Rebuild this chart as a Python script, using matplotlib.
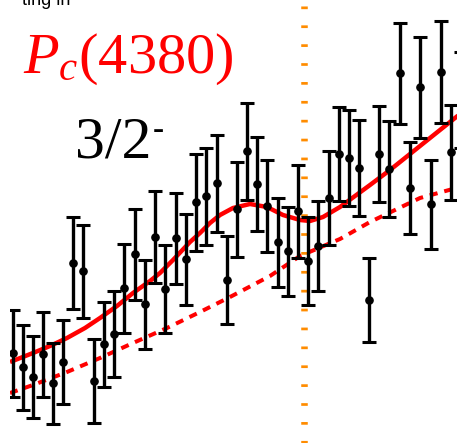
import matplotlib
matplotlib.use("Agg")
import matplotlib.pyplot as plt

plt.rcParams['lines.scale_dashes'] = False
plt.rcParams['mathtext.fontset'] = 'custom'
plt.rcParams['mathtext.it'] = 'Liberation Serif:italic'
plt.rcParams['mathtext.rm'] = 'Liberation Serif'

# ---- data (arbitrary units) ----
mass = [13, 23, 33, 43, 53, 63, 73, 83, 94, 104, 114, 124, 135, 145, 155, 165,
        176, 186, 196, 206, 217, 227, 237, 247, 257, 267, 278, 288, 298, 308,
        318, 329, 339, 349, 359, 369, 379, 389, 400, 410, 420, 431, 441, 451, 461]
counts = [90, 76, 66, 89, 60, 81, 180, 172, 62, 99, 109, 155, 189, 139, 206, 154,
          205, 184, 241, 247, 260, 163, 234, 292, 259, 237, 201, 192, 232, 182,
          197, 245, 289, 285, 275, 143, 289, 274, 370, 255, 356, 239, 371, 291, 343]
errors = [43.5, 42.5, 41, 42.5, 40.5, 42, 46, 46.5, 42, 42.5, 43, 44.5, 45.5, 44.5,
          46, 44, 45.5, 45.5, 48.5, 48.5, 48.5, 44, 47.5, 48.5, 47, 46, 44.5, 44.5,
          46.5, 44, 45, 47, 47, 48, 48, 42, 48, 48, 50.5, 46, 50.5, 44.5, 51, 47.5, 48]

fit_x = [10, 33, 50, 67, 85, 100, 117, 133, 150, 160, 173, 190, 200, 210, 220,
         233, 250, 267, 283, 300, 310, 323, 340, 355, 370, 390, 410, 430, 450, 460]
fit_total = [81, 90, 97, 105, 115, 125, 137, 150, 162, 170, 183, 201, 210, 220, 228,
             235, 239, 236, 228, 223, 222, 226, 236, 247, 258, 273, 289, 305, 321, 329]

bkg_x = [10, 33, 67, 100, 133, 167, 200, 230, 270, 300, 340, 370, 420, 460]
bkg = [50, 58, 71, 85, 100, 115, 131, 146, 167, 187, 204, 221, 245, 256]

threshold = 304

W, H = 457, 443
fig = plt.figure(figsize=(W / 100, H / 100), dpi=100)
ax = fig.add_axes([10 / W, 0, (W - 10) / W, 1])
ax.set_xlim(10, W)
ax.set_ylim(0, H)
ax.axis('off')

# orange dotted threshold line
ax.plot([threshold, threshold], [H, 0], color='#FF8C00', lw=4.7,
        linestyle=(9.3, (1.95, 11.65)), dash_capstyle='butt')

# background (dashed) and total fit (solid)
ax.plot(bkg_x, bkg, color='#FF0000', lw=2.9, linestyle=(0, (5.8, 5.0)),
        dash_capstyle='butt', zorder=3)
ax.plot(fit_x, fit_total, color='#FF0000', lw=3.2, zorder=4, solid_capstyle='butt')

# data points
ax.errorbar(mass, counts, yerr=errors, fmt='o', color='black', ms=5.2,
            elinewidth=2.4, capsize=5.2, capthick=2.2, zorder=5)

# labels
fig.text(23 / W, 1 - 73 / H, r'$P_c$(4380)', color='#FF0000', fontsize=42,
         family='Liberation Serif', ha='left', va='baseline')
fig.text(75 / W, 1 - 158 / H, '3/2', color='black', fontsize=43,
         family='Liberation Serif', ha='left', va='baseline')
fig.text(153 / W, 1 - 139 / H, '-', color='black', fontsize=24,
         family='Liberation Serif', ha='left', va='baseline')
fig.text(70 / W, 1 - 5 / H, 'ting in', color='black', fontsize=13,
         family='Liberation Sans', ha='right', va='baseline')

fig.savefig('out.png', dpi=100)
